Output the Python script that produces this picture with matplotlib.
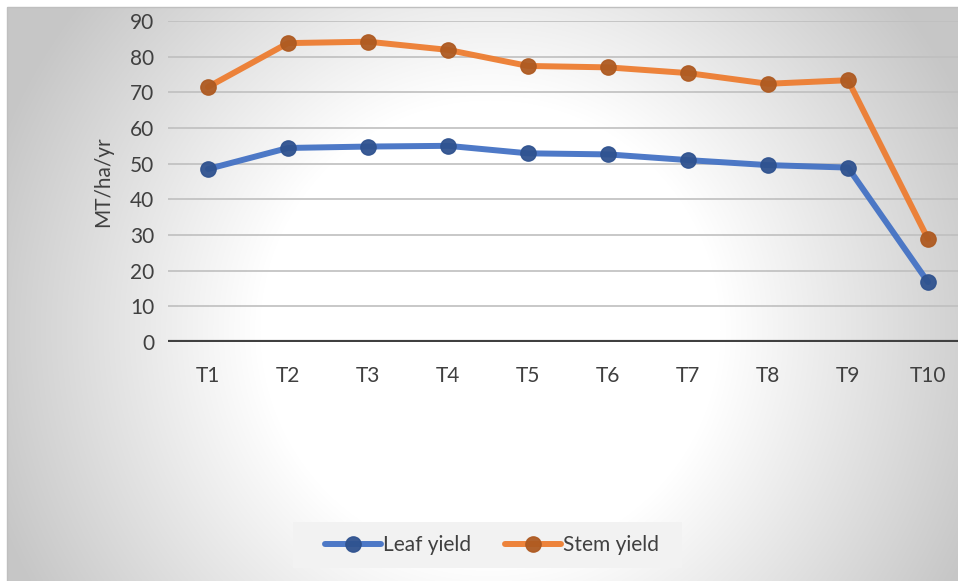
import numpy as np
import matplotlib
matplotlib.use('Agg')
import matplotlib.pyplot as plt
from matplotlib.patches import Rectangle

# data
cats = ['T1','T2','T3','T4','T5','T6','T7','T8','T9','T10']
leaf = [48.5, 54.4, 54.8, 55.0, 52.9, 52.6, 51.0, 49.6, 48.9, 16.8]
stem = [71.5, 83.8, 84.2, 81.9, 77.4, 77.0, 75.4, 72.4, 73.4, 28.9]
yticks = [0, 10, 20, 30, 40, 50, 60, 70, 80, 90]

plt.rcParams['font.family'] = ['Lato', 'DejaVu Sans']
W, H = 958, 581
fig = plt.figure(figsize=(W/100., H/100.), dpi=100)

# radial gradient background of the chart area
bg = fig.add_axes([0, 0, 1, 1])
bg.set_axis_off()
yy, xx = np.mgrid[0:H, 0:W]
r = np.sqrt((xx-490.)**2 + (yy-330.)**2)
v = np.clip(1 - 0.00075*np.clip(r-230, 0, None), 0.78, 1.0)
img = np.dstack([v, v, v])
img[:7, :, :] = 1.0
img[:, :7, :] = 1.0
bg.imshow(img, extent=[0, W, H, 0], aspect='auto', interpolation='bilinear')
bg.set_xlim(0, W); bg.set_ylim(H, 0)
bg.add_patch(Rectangle((7, 7), W, H, fill=False, ec='#BFBFBF', lw=1))
# legend backdrop
bg.add_patch(Rectangle((293, 522), 389, 46, fc='#F2F2F2', ec='none'))

ax = fig.add_axes([168./W, 239./H, 800./W, 321./H])
ax.patch.set_alpha(0)
x = np.arange(len(cats))
ax.plot(x, leaf, color='#4472C4', lw=4.3, marker='o', ms=11, mfc='#2F528F', mec='#2F528F',
        alpha=0.95, solid_capstyle='round', label='Leaf yield', zorder=3)
ax.plot(x, stem, color='#ED7D31', lw=4.3, marker='o', ms=11, mfc='#AE5A21', mec='#AE5A21',
        alpha=0.95, solid_capstyle='round', label='Stem yield', zorder=3)

ax.set_xlim(-0.5, 9.5)
ax.set_ylim(0, 90)
ax.set_yticks(yticks)
ax.set_xticks(x)
ax.set_xticklabels(cats)
for s in ax.spines.values():
    s.set_visible(False)
ax.grid(axis='y', color='#BFBFBF', lw=1.2, zorder=0)
ax.axhline(0, color='#404040', lw=3, zorder=2)
ax.tick_params(length=0, labelsize=15, colors='#404040', pad=10)
ax.tick_params(axis='x', pad=17)
ax.set_ylabel('MT/ha/yr', fontsize=15, color='#404040', labelpad=12)

leg = ax.legend(loc='center', bbox_to_anchor=(492./W, (H-545.)/H), bbox_transform=fig.transFigure,
                ncol=2, frameon=False, fontsize=15, handlelength=2.7, columnspacing=1.6,
                handletextpad=0.1, labelcolor='#404040')

plt.savefig('out.png', dpi=100)
